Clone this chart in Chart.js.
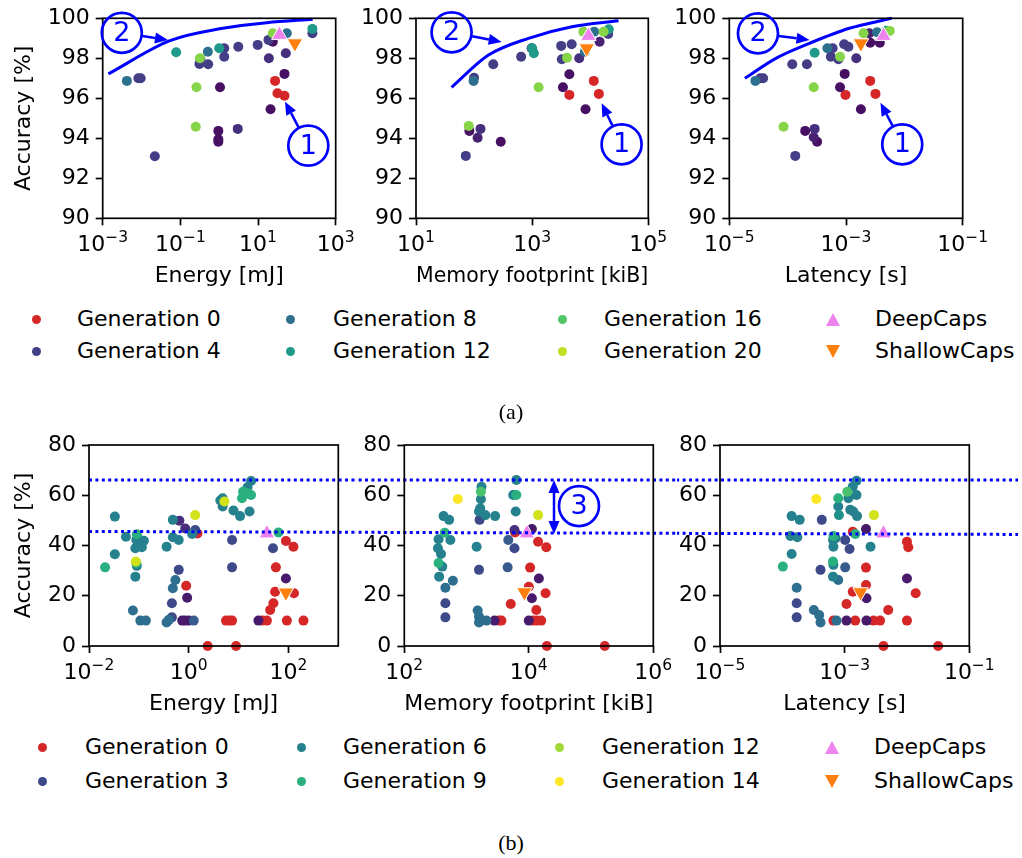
<!DOCTYPE html>
<html>
<head>
<meta charset="utf-8">
<script src="https://cdn.jsdelivr.net/npm/chart.js@4.4.0/dist/chart.umd.min.js"></script>
<style>
  body { margin: 0; background: #fff; width: 1022px; height: 858px; position: relative; overflow: hidden; }
  canvas { position: absolute; }
  .leg { position: absolute; font: 22px "DejaVu Sans"; line-height: 26px; color: #000; white-space: nowrap; }
  .mk { position: absolute; }
  .cap { position: absolute; font: 22px "Liberation Serif"; color: #000; transform: translateX(-50%); }
</style>
</head>
<body>
<script>
// ---- (a) 20 generations: [value, accuracy %, generation] ----
const energyA = [
  [0.0042, 96.87, 8], [0.0083, 97.0, 4], [0.0095, 97.0, 4], [0.022, 93.1, 4], [0.078, 98.3, 12],
  [0.26, 96.55, 18], [0.25, 94.58, 18], [0.32, 98.0, 18], [0.33, 97.95, 4], [0.31, 97.72, 4],
  [0.51, 98.33, 8], [0.52, 97.7, 4], [1.0, 98.5, 12], [1.35, 98.5, 4], [1.35, 98.08, 4],
  [1.05, 96.55, 1], [0.95, 94.37, 1], [0.95, 93.95, 1], [0.95, 93.83, 1], [3.0, 94.47, 3],
  [3.1, 98.58, 4], [9.8, 98.67, 4], [18.6, 98.92, 4], [24, 98.83, 1], [19, 98.0, 3],
  [27.5, 96.87, 0], [48, 97.22, 1], [31.6, 96.25, 0], [48, 96.13, 0], [21, 95.45, 1],
  [52, 98.25, 3], [55, 99.25, 8], [24, 99.25, 18], [251, 99.47, 12], [251, 99.25, 4]
];
const memoryA = [
  [72, 93.12, 4], [81, 94.62, 18], [83, 94.37, 1], [115, 94.03, 2], [129, 94.47, 3],
  [288, 93.83, 1], [98, 96.87, 8], [100, 97.03, 4], [214, 97.7, 4], [646, 98.08, 4],
  [1000, 98.5, 12], [1070, 98.25, 12], [977, 98.5, 4], [1290, 96.55, 18], [3160, 98.62, 4],
  [4790, 98.7, 4], [3240, 97.95, 4], [3980, 98.03, 18], [6460, 98.0, 3], [4370, 97.2, 1],
  [3390, 96.55, 1], [4370, 96.17, 0], [11500, 96.87, 0], [14100, 96.22, 0], [8300, 95.45, 1],
  [14500, 98.83, 2], [7600, 99.33, 18], [11700, 99.33, 8], [17000, 99.33, 18], [20900, 99.45, 12],
  [20400, 99.22, 4], [8100, 98.33, 8]
];
const latencyA = [
  [2.8e-5, 96.87, 8], [3.4e-5, 97.0, 4], [3.8e-5, 97.0, 4], [8.5e-5, 94.58, 18], [1.2e-4, 97.7, 4],
  [1.35e-4, 93.12, 4], [2.0e-4, 94.37, 1], [2.14e-4, 97.7, 4], [2.9e-4, 94.47, 3], [2.8e-4, 94.05, 2],
  [3.2e-4, 93.83, 1], [2.9e-4, 98.28, 12], [2.8e-4, 96.55, 18], [4.8e-4, 98.5, 8], [5.9e-4, 98.5, 4],
  [5.5e-4, 98.08, 4], [7.9e-4, 98.08, 18], [7.4e-4, 97.95, 4], [7.9e-4, 96.55, 1], [9.5e-4, 97.22, 1],
  [9.8e-4, 96.17, 0], [9.3e-4, 98.7, 4], [1.1e-3, 98.58, 4], [1.5e-3, 98.0, 3], [1.8e-3, 95.45, 1],
  [2.6e-3, 96.87, 0], [3.2e-3, 96.22, 0], [2.0e-3, 99.25, 18], [2.5e-3, 99.25, 2], [2.6e-3, 98.78, 1],
  [3.8e-3, 98.78, 1], [3.4e-3, 99.3, 8], [5.6e-3, 99.37, 18], [4.9e-3, 99.38, 12]
];
// reference networks, one entry per panel (energy, memory, latency)
const deepCapsA = [[35.5, 99.17], [9300, 99.12], [4.4e-3, 99.12]];
const shallowCapsA = [[89, 98.75], [8700, 98.5], [1.8e-3, 98.75]];
// hand-drawn frontier curves (2)
const frontierEnergyA = [[0.0014, 97.22], [0.054, 98.88], [1.25, 99.5], [16.7, 99.78], [256, 99.95]];
const frontierMemoryA = [[41, 96.55], [177, 98.16], [863, 99.0], [4830, 99.58], [30700, 99.88]];
const frontierLatencyA = [[1.85e-5, 97.0], [6.5e-5, 98.02], [2.37e-4, 98.75], [1.14e-3, 99.5], [6.07e-3, 100.0]];

// ---- (b) 14 generations ----
const energyB = [
  [0.021, 31.3, 9], [0.033, 51.5, 6], [0.033, 36.5, 6], [0.055, 43.5, 6], [0.076, 14.1, 5],
  [0.085, 38.9, 6], [0.089, 42.2, 6], [0.091, 44.5, 9], [0.105, 42.2, 6], [0.126, 41.9, 6],
  [0.115, 39.3, 6], [0.087, 33.6, 13], [0.091, 31.9, 6], [0.089, 33.0, 9], [0.085, 27.6, 6],
  [0.107, 10.1, 5], [0.138, 10.1, 5], [0.36, 39.5, 6], [0.48, 50.2, 6], [0.65, 49.9, 2],
  [0.48, 43.3, 6], [0.63, 42.2, 6], [0.63, 30.3, 3], [0.54, 26.3, 5], [0.48, 23.0, 5],
  [0.46, 17.0, 3], [0.46, 11.4, 3], [0.40, 10.4, 5], [0.36, 9.4, 5], [0.85, 46.8, 2],
  [0.89, 24.0, 0], [0.93, 19.2, 1], [0.74, 10.1, 1], [0.85, 10.1, 1], [1.26, 10.1, 4],
  [1.0, 10.1, 1], [1.17, 44.6, 6], [1.35, 46.2, 3], [1.5, 44.8, 0], [1.35, 52.1, 13],
  [2.4, 0, 0], [4.8, 58.8, 6], [4.3, 57.9, 6], [4.8, 55.5, 6], [5.2, 57.5, 13],
  [7.9, 53.9, 6], [10.7, 51.7, 6], [11.7, 58.8, 9], [12.3, 61.4, 9], [15.8, 60.7, 9],
  [17.8, 60.1, 9], [15.1, 63.2, 6], [17.8, 65.7, 6], [16.6, 53.5, 6], [7.4, 42.2, 3],
  [7.4, 31.3, 3], [5.6, 10.1, 0], [7.4, 10.1, 0], [6.5, 10.1, 0], [8.9, 0, 0],
  [25, 10.1, 1], [30, 10.1, 0], [37, 10.1, 0], [43, 14.3, 0], [50, 17.0, 0],
  [54, 21.6, 0], [56, 31.3, 0], [49, 38.9, 3], [63, 45.2, 9], [89, 41.8, 0],
  [126, 39.5, 0], [89, 26.9, 1], [129, 21.0, 0], [93, 10.1, 0], [200, 10.1, 0]
];
const memoryB = [
  [355, 42.5, 6], [347, 38.9, 6], [389, 36.6, 6], [355, 33.0, 9], [407, 31.6, 6],
  [363, 27.6, 6], [427, 51.7, 6], [525, 50.2, 6], [447, 45.1, 9], [550, 42.2, 6],
  [603, 26.0, 5], [457, 23.2, 5], [457, 17.0, 3], [457, 11.4, 3], [724, 58.5, 14],
  [1450, 39.5, 6], [1585, 30.3, 3], [1620, 50.2, 3], [1740, 63.4, 6], [1700, 61.4, 10],
  [1700, 58.4, 6], [1660, 54.8, 6], [1585, 53.5, 6], [2000, 52.1, 6], [2880, 51.7, 6],
  [1510, 14.1, 5], [1585, 11.7, 5], [1585, 9.4, 5], [2090, 10.1, 5], [2820, 10.1, 1],
  [3310, 10.1, 0], [3630, 10.1, 0], [5130, 16.7, 0], [4570, 31.3, 4], [4680, 42.2, 4],
  [5890, 38.9, 3], [5890, 46.2, 2], [6030, 45.2, 0], [6310, 66.1, 6], [6310, 60.1, 9],
  [5620, 60.1, 6], [6170, 53.5, 6], [10500, 31.2, 0], [10000, 23.6, 0], [11200, 46.6, 1],
  [14100, 41.5, 0], [19100, 39.3, 0], [14500, 26.9, 1], [18600, 21.0, 0], [13200, 14.3, 0],
  [10000, 10.1, 1], [11700, 10.1, 0], [13500, 10.1, 0], [15800, 10.1, 0], [11200, 19.0, 1],
  [14100, 52.1, 13], [19500, 0, 0], [166000, 0, 0]
];
const latencyB = [
  [1.02e-4, 31.6, 9], [1.41e-4, 51.7, 6], [1.9e-4, 50.2, 6], [1.35e-4, 43.8, 6], [1.74e-4, 43.3, 6],
  [1.41e-4, 36.6, 6], [1.7e-4, 23.2, 5], [1.7e-4, 17.0, 3], [1.7e-4, 11.4, 3], [3.2e-4, 14.3, 5],
  [3.9e-4, 12.3, 5], [4.1e-4, 9.4, 5], [3.5e-4, 58.5, 14], [4.3e-4, 50.2, 3], [4.1e-4, 30.3, 3],
  [6.6e-4, 43.8, 9], [6.5e-4, 42.2, 6], [7.2e-4, 42.9, 6], [6.6e-4, 39.5, 6], [6.5e-4, 33.6, 9],
  [6.6e-4, 32.3, 6], [6.5e-4, 27.6, 6], [7.9e-4, 26.3, 5], [7.9e-4, 58.8, 9], [7.9e-4, 55.5, 6],
  [8.1e-4, 52.1, 7], [1.1e-3, 61.4, 10], [1.15e-3, 58.8, 6], [1.35e-3, 63.4, 6], [1.55e-3, 65.8, 6],
  [1.55e-3, 60.1, 6], [1.23e-3, 54.2, 6], [1.38e-3, 53.5, 6], [1.58e-3, 51.7, 6], [1.02e-3, 42.2, 3],
  [1.2e-3, 38.6, 3], [1.02e-3, 31.3, 4], [1.35e-3, 45.5, 0], [1.48e-3, 44.6, 9], [6.6e-4, 10.1, 0],
  [7.4e-4, 10.1, 5], [1.07e-3, 10.1, 1], [1.48e-3, 10.1, 0], [1.07e-3, 16.7, 0], [1.35e-3, 21.6, 0],
  [2.2e-3, 31.2, 0], [2.2e-3, 24.3, 0], [2.24e-3, 19.0, 1], [2.2e-3, 46.6, 1], [2.6e-3, 39.5, 6],
  [2.95e-3, 52.1, 13], [2.24e-3, 10.1, 1], [2.9e-3, 10.1, 0], [3.7e-3, 10.1, 0], [5.0e-3, 14.3, 0],
  [4.2e-3, 0, 0], [0.01, 41.5, 0], [0.0105, 39.3, 0], [0.01, 26.9, 1], [0.0138, 21.0, 0],
  [0.01, 10.1, 0], [0.0316, 0, 0]
];
const deepCapsB = [[37, 44.8], [9300, 44.8], [4.2e-3, 44.8]];
const shallowCapsB = [[89, 21.3], [8500, 21.4], [1.8e-3, 21.4]];
// accuracy band between best seed and best evolved network (3): [left end, right end]
const bandTopB = [66.1, 66.1];
const bandLowB = [45.6, 44.4];

// generation -> colour (viridis, generation 0 in red)
const genColorsA = { 0: '#d62728', 1: '#471063', 2: '#482173', 3: '#46307e', 4: '#433e85', 8: '#2d708e',
  12: '#1f9a8a', 16: '#52c569', 18: '#86d549', 20: '#c2df23' };
const genColorsB = { 0: '#d62728', 1: '#481a6c', 2: '#472f7d', 3: '#3e4989', 4: '#375b8d', 5: '#2e6e8e',
  6: '#26818e', 7: '#21918c', 9: '#2ab07f', 10: '#4ac16d', 12: '#a0da39', 13: '#d2e21b', 14: '#fde725' };

// axes: decade ticks and their exponents (drawn as 10^e)
const accTicksA = [90, 92, 94, 96, 98, 100];
const accTicksB = [0, 20, 40, 60, 80];
const energyTicksA = [1e-3, 1e-1, 1e1, 1e3];
const energyExpA = ['−3', '−1', '1', '3'];
const memoryTicksA = [1e1, 1e3, 1e5];
const memoryExpA = ['1', '3', '5'];
const latencyTicks = [1e-5, 1e-3, 1e-1];
const latencyExp = ['−5', '−3', '−1'];
const energyTicksB = [1e-2, 1e0, 1e2];
const energyExpB = ['−2', '0', '2'];
const memoryTicksB = [1e2, 1e4, 1e6];
const memoryExpB = ['2', '4', '6'];

const FONT = { family: 'DejaVu Sans', size: 22 };
const BLUE = '#0000ff';

function drawArrow(ctx, x0, y0, x1, y1) {
  const dx = x1 - x0, dy = y1 - y0, L = Math.hypot(dx, dy), ux = dx / L, uy = dy / L;
  const hl = 13, hw = 5.5;
  ctx.beginPath();
  ctx.moveTo(x0, y0);
  ctx.lineTo(x1 - ux * hl, y1 - uy * hl);
  ctx.stroke();
  ctx.beginPath();
  ctx.moveTo(x1, y1);
  ctx.lineTo(x1 - ux * hl - uy * hw, y1 - uy * hl + ux * hw);
  ctx.lineTo(x1 - ux * hl + uy * hw, y1 - uy * hl - ux * hw);
  ctx.closePath();
  ctx.fill();
}

function drawBadge(ctx, cx, cy, text) {
  ctx.lineWidth = 2.7;
  ctx.beginPath();
  ctx.arc(cx, cy, 20, 0, Math.PI * 2);
  ctx.stroke();
  ctx.font = '27px "DejaVu Sans"';
  ctx.textAlign = 'center';
  ctx.textBaseline = 'middle';
  ctx.fillText(text, cx, cy + 1);
}

// "10" with a raised, smaller exponent, centred on the tick
function drawPow(ctx, x, baseline, exp) {
  ctx.textAlign = 'left';
  ctx.textBaseline = 'alphabetic';
  ctx.font = '22px "DejaVu Sans"';
  const w1 = ctx.measureText('10').width;
  ctx.font = '15.5px "DejaVu Sans"';
  const w2 = ctx.measureText(exp).width;
  const x0 = x - (w1 + w2) / 2;
  ctx.font = '22px "DejaVu Sans"';
  ctx.fillText('10', x0, baseline);
  ctx.font = '15.5px "DejaVu Sans"';
  ctx.fillText(exp, x0 + w1, baseline - 9);
}

function panel(cfg) {
  const [bx, by, bw, bh] = cfg.box;
  const [pl, pt, pr, pb] = cfg.plot;
  const cv = document.createElement('canvas');
  cv.width = bw; cv.height = bh;
  cv.style.left = bx + 'px'; cv.style.top = by + 'px';
  document.body.appendChild(cv);

  const datasets = [];
  const gens = [...new Set(cfg.points.map(p => p[2]))].sort((a, b) => a - b);
  gens.forEach(g => {
    datasets.push({
      data: cfg.points.filter(p => p[2] === g).map(p => ({ x: p[0], y: p[1] })),
      backgroundColor: cfg.colors[g], borderWidth: 0, pointRadius: 5,
      order: 100 - g, clip: false
    });
  });
  datasets.push({
    data: [{ x: cfg.deep[0], y: cfg.deep[1] }], pointStyle: 'triangle', pointRadius: 9,
    backgroundColor: '#ee82ee', borderColor: '#fff', borderWidth: 1, order: 0, clip: false
  });
  datasets.push({
    data: [{ x: cfg.shallow[0], y: cfg.shallow[1] }], pointStyle: 'triangle', rotation: 180, pointRadius: 9,
    backgroundColor: '#ff7f0e', borderColor: '#fff', borderWidth: 1, order: 0, clip: false
  });
  if (cfg.curve) {
    datasets.push({
      type: 'line', data: cfg.curve.map(p => ({ x: p[0], y: p[1] })), borderColor: BLUE, borderWidth: 3,
      pointRadius: 0, cubicInterpolationMode: 'monotone', fill: false, order: -1, clip: false
    });
  }

  const marks = {
    id: 'marks',
    afterDraw(chart) {
      const { ctx, chartArea: a, scales: { x, y } } = chart;
      ctx.save();
      // dotted band lines spanning the whole row
      if (cfg.bands) {
        const fx0 = 89, fx1 = 1018;
        const sx = Math.max(fx0, bx), ex = Math.min(fx1, bx + bw);
        ctx.strokeStyle = BLUE; ctx.lineWidth = 3; ctx.setLineDash([3, 3.4]);
        ctx.lineDashOffset = -(sx - fx0);
        cfg.bands.forEach(([v0, v1]) => {
          const t0 = (sx - fx0) / (fx1 - fx0), t1 = (ex - fx0) / (fx1 - fx0);
          ctx.beginPath();
          ctx.moveTo(sx - bx, y.getPixelForValue(v0 + (v1 - v0) * t0));
          ctx.lineTo(ex - bx, y.getPixelForValue(v0 + (v1 - v0) * t1));
          ctx.stroke();
        });
        ctx.setLineDash([]);
      }
      // axes box
      ctx.strokeStyle = '#000'; ctx.lineWidth = 1.7;
      ctx.strokeRect(a.left, a.top, a.right - a.left, a.bottom - a.top);
      // decade tick labels
      ctx.fillStyle = '#000';
      cfg.xTicks.forEach((v, i) => drawPow(ctx, x.getPixelForValue(v), a.bottom + 33, cfg.xExp[i]));
      // numbered call-outs
      ctx.strokeStyle = BLUE; ctx.fillStyle = BLUE;
      (cfg.notes || []).forEach(n => {
        const cx = x.getPixelForValue(n.at[0]), cy = y.getPixelForValue(n.at[1]);
        drawBadge(ctx, cx, cy, n.text);
        if (n.to) {
          const tx = x.getPixelForValue(n.to[0]), ty = y.getPixelForValue(n.to[1]);
          const L = Math.hypot(tx - cx, ty - cy);
          ctx.lineWidth = 2.5;
          drawArrow(ctx, cx + (tx - cx) / L * 21, cy + (ty - cy) / L * 21, tx, ty);
        }
      });
      if (cfg.span) {
        const sxp = x.getPixelForValue(cfg.span[0]);
        const y1 = y.getPixelForValue(cfg.span[1]), y2 = y.getPixelForValue(cfg.span[2]);
        const mid = (y1 + y2) / 2;
        ctx.lineWidth = 2.5;
        drawArrow(ctx, sxp, mid, sxp, y1);
        drawArrow(ctx, sxp, mid, sxp, y2);
      }
      ctx.restore();
    }
  };

  new Chart(cv, {
    type: 'scatter',
    data: { datasets },
    options: {
      responsive: false, animation: false, events: [], devicePixelRatio: 1,
      layout: { padding: { left: 0, top: pt - by, right: bx + bw - pr, bottom: 0 } },
      plugins: { legend: { display: false }, tooltip: { enabled: false } },
      scales: {
        x: {
          type: 'logarithmic', position: 'bottom', min: cfg.xRange[0], max: cfg.xRange[1],
          afterBuildTicks: s => { s.ticks = cfg.xTicks.map(v => ({ value: v })); },
          afterFit: s => { s.height = by + bh - pb; s.paddingLeft = 0; s.paddingRight = 0; },
          ticks: { callback: () => '', font: FONT, color: '#000', padding: 6, maxRotation: 0, autoSkip: false },
          grid: { drawOnChartArea: false, tickLength: 7, tickColor: '#000', tickWidth: 1.7 },
          border: { display: false },
          title: { display: true, text: cfg.xTitle, font: FONT, color: '#000', padding: { top: 0, bottom: 1 } }
        },
        y: {
          type: 'linear', position: 'left', min: cfg.yTicks[0], max: cfg.yTicks[cfg.yTicks.length - 1],
          afterBuildTicks: s => { s.ticks = cfg.yTicks.map(v => ({ value: v })); },
          afterFit: s => { s.width = pl - bx; s.paddingTop = 0; s.paddingBottom = 0; },
          ticks: { callback: v => String(v), font: FONT, color: '#000', padding: 6, autoSkip: false },
          grid: { drawOnChartArea: false, tickLength: 7, tickColor: '#000', tickWidth: 1.7 },
          border: { display: false },
          title: { display: !!cfg.yTitle, text: cfg.yTitle || '', font: FONT, color: '#000', padding: { top: 10.8, bottom: 0 } }
        }
      }
    },
    plugins: [marks]
  });
}

// ---- row (a) ----
panel({
  box: [0, 0, 360, 290], plot: [102.7, 18.3, 335.7, 218.3],
  points: energyA, colors: genColorsA, deep: deepCapsA[0], shallow: shallowCapsA[0],
  xRange: [1e-3, 1e3], xTicks: energyTicksA, xExp: energyExpA, yTicks: accTicksA,
  xTitle: 'Energy [mJ]', yTitle: 'Accuracy [%]', curve: frontierEnergyA,
  notes: [{ at: [0.0031, 99.27], text: '2', to: [0.048, 98.92] }, { at: [197, 93.63], text: '1', to: [49.5, 95.83] }]
});
panel({
  box: [360, 0, 312, 290], plot: [416, 18.3, 648.3, 218.3],
  points: memoryA, colors: genColorsA, deep: deepCapsA[1], shallow: shallowCapsA[1],
  xRange: [1e1, 1e5], xTicks: memoryTicksA, xExp: memoryExpA, yTicks: accTicksA,
  xTitle: 'Memory footprint [kiB]', curve: frontierMemoryA,
  notes: [{ at: [41, 99.3], text: '2', to: [299, 98.82] }, { at: [34700, 93.7], text: '1', to: [15700, 95.75] }]
});
panel({
  box: [672, 0, 350, 290], plot: [729.3, 18.3, 962.7, 218.3],
  points: latencyA, colors: genColorsA, deep: deepCapsA[2], shallow: shallowCapsA[2],
  xRange: [1e-5, 1e-1], xTicks: latencyTicks, xExp: latencyExp, yTicks: accTicksA,
  xTitle: 'Latency [s]', curve: frontierLatencyA,
  notes: [{ at: [3.1e-5, 99.25], text: '2', to: [2.37e-4, 98.92] }, { at: [9.2e-3, 93.7], text: '1', to: [3.9e-3, 95.78] }]
});

// ---- row (b) ----
panel({
  box: [0, 420, 355, 298], plot: [89, 445, 338.3, 646],
  points: energyB, colors: genColorsB, deep: deepCapsB[0], shallow: shallowCapsB[0],
  xRange: [1e-2, 1e3], xTicks: energyTicksB, xExp: energyExpB, yTicks: accTicksB,
  xTitle: 'Energy [mJ]', yTitle: 'Accuracy [%]', bands: [bandTopB, bandLowB]
});
panel({
  box: [355, 420, 322, 298], plot: [404.3, 445, 653.3, 646],
  points: memoryB, colors: genColorsB, deep: deepCapsB[1], shallow: shallowCapsB[1],
  xRange: [1e2, 1e6], xTicks: memoryTicksB, xExp: memoryExpB, yTicks: accTicksB,
  xTitle: 'Memory footprint [kiB]', bands: [bandTopB, bandLowB],
  span: [25400, 66.1, 44.6], notes: [{ at: [64000, 55.7], text: '3' }]
});
panel({
  box: [677, 420, 345, 298], plot: [720, 445, 969.3, 646],
  points: latencyB, colors: genColorsB, deep: deepCapsB[2], shallow: shallowCapsB[2],
  xRange: [1e-5, 1e-1], xTicks: latencyTicks, xExp: latencyExp, yTicks: accTicksB,
  xTitle: 'Latency [s]', bands: [bandTopB, bandLowB]
});

// ---- legends ----
const legendA = [
  ['Generation 0', genColorsA[0], 'dot'], ['Generation 4', genColorsA[4], 'dot'],
  ['Generation 8', genColorsA[8], 'dot'], ['Generation 12', genColorsA[12], 'dot'],
  ['Generation 16', genColorsA[16], 'dot'], ['Generation 20', genColorsA[20], 'dot'],
  ['DeepCaps', '#ee82ee', 'up'], ['ShallowCaps', '#ff7f0e', 'down']
];
const legendB = [
  ['Generation 0', genColorsB[0], 'dot'], ['Generation 3', genColorsB[3], 'dot'],
  ['Generation 6', genColorsB[6], 'dot'], ['Generation 9', genColorsB[9], 'dot'],
  ['Generation 12', genColorsB[12], 'dot'], ['Generation 14', genColorsB[14], 'dot'],
  ['DeepCaps', '#ee82ee', 'up'], ['ShallowCaps', '#ff7f0e', 'down']
];

function legend(items, markerX, textX, rowY) {
  items.forEach(([label, color, kind], i) => {
    const col = Math.floor(i / 2), cy = rowY[i % 2], cx = markerX[col];
    const m = document.createElement('div');
    m.className = 'mk';
    if (kind === 'dot') {
      Object.assign(m.style, { left: (cx - 4.5) + 'px', top: (cy - 4.5) + 'px', width: '9px', height: '9px',
        borderRadius: '50%', background: color });
    } else {
      Object.assign(m.style, { left: (cx - 7.5) + 'px', top: (cy - 6.5) + 'px', width: '0', height: '0',
        borderLeft: '7.5px solid transparent', borderRight: '7.5px solid transparent' });
      m.style[kind === 'up' ? 'borderBottom' : 'borderTop'] = '13px solid ' + color;
    }
    document.body.appendChild(m);
    const t = document.createElement('div');
    t.className = 'leg';
    t.textContent = label;
    t.style.left = textX[col] + 'px';
    t.style.top = (cy - 12.6) + 'px';
    document.body.appendChild(t);
  });
}
legend(legendA, [36, 290, 562, 833], [77, 333, 604, 875], [319, 351]);
legend(legendB, [42, 301, 559, 832], [85, 343, 602, 874], [747, 781]);

function caption(text, x, y) {
  const c = document.createElement('div');
  c.className = 'cap';
  c.textContent = text;
  c.style.left = x + 'px';
  c.style.top = (y - 13) + 'px';
  document.body.appendChild(c);
}
caption('(a)', 511, 412);
caption('(b)', 511, 843);
</script>
</body>
</html>
